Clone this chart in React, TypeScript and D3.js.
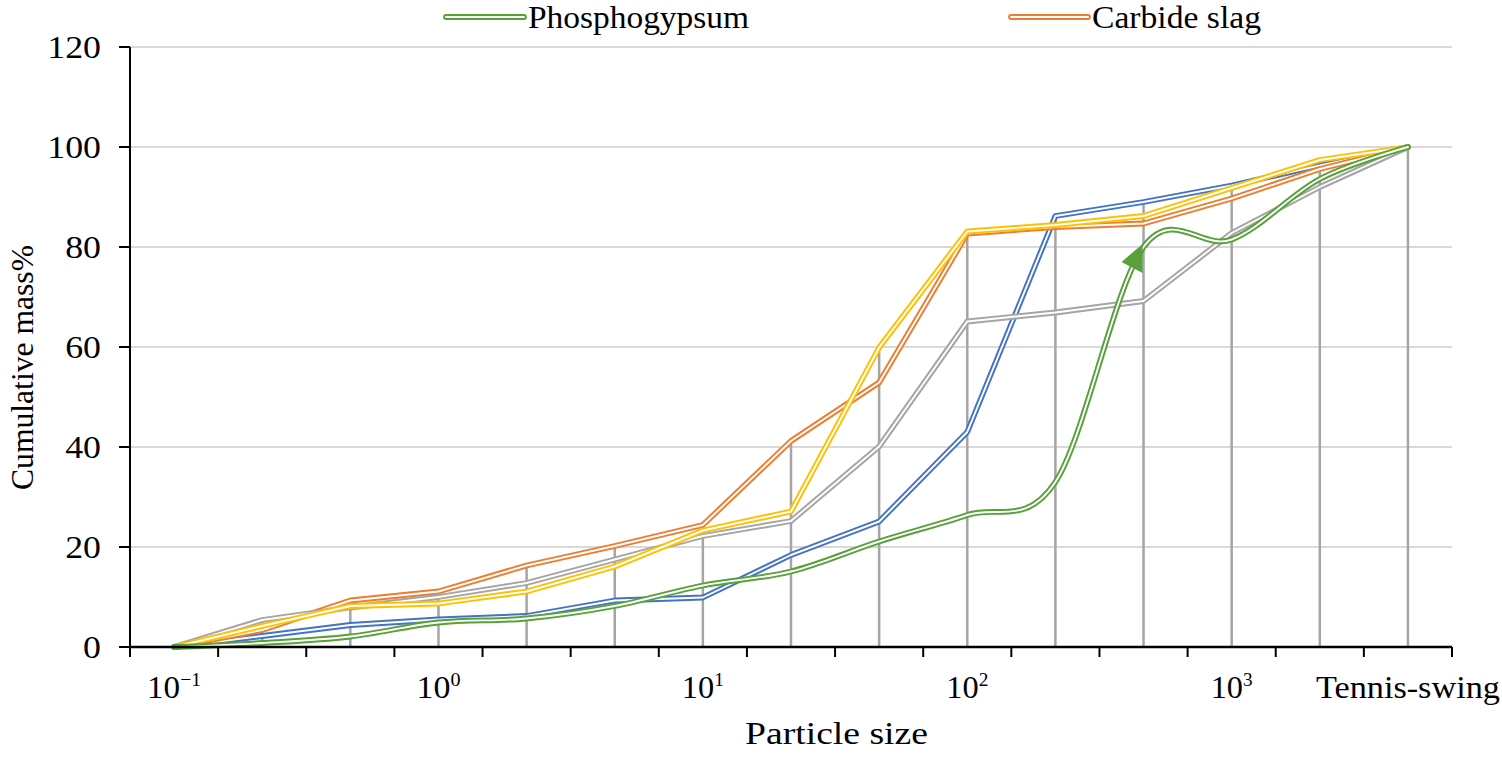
import React from "react";
import * as d3 from "d3";

const categories = ["0.1", "0.2", "0.5", "1", "2", "5", "10", "20", "50", "100", "200", "500", "1000", "2000", "Tennis-swing"];
const tickLabels: { index: number; base: string; sup: string; width: number }[] = [
  { index: 0, base: "10", sup: "\u22121", width: 54 },
  { index: 3, base: "10", sup: "0", width: 44 },
  { index: 6, base: "10", sup: "1", width: 42 },
  { index: 9, base: "10", sup: "2", width: 42 },
  { index: 12, base: "10", sup: "3", width: 42 },
  { index: 14, base: "Tennis-swing", sup: "", width: 184 },
];
const yTicks = [0, 20, 40, 60, 80, 100, 120];

const blueValues = [0, 2.2, 4.4, 5.5, 6.2, 9.3, 9.9, 18.4, 25.1, 43.0, 86.2, 89.0, 92.3, 96.3, 100];
const orangeValues = [0, 3.4, 9.3, 11.1, 16.3, 20.2, 24.4, 41.2, 52.9, 82.7, 84.0, 84.7, 89.7, 95.6, 100];
const grayValues = [0, 5.4, 7.9, 10.0, 12.8, 17.5, 22.2, 25.2, 40.1, 65.1, 66.9, 69.2, 82.8, 92.0, 100];
const yellowValues = [0, 4.2, 8.2, 8.7, 11.1, 16.1, 23.3, 27.1, 59.9, 83.1, 84.4, 86.2, 91.8, 97.4, 100];
const greenValues = [0, 0.8, 2.1, 4.9, 5.7, 8.2, 12.3, 15.1, 21.1, 26.4, 33.0, 80.0, 81.5, 93.6, 100];

const GREEN = "#58A03A";

const series = [
  { name: "Series 1", color: "#4472C4", values: blueValues, smooth: false },
  { name: "Carbide slag", color: "#ED7D31", values: orangeValues, smooth: false },
  { name: "Series 3", color: "#A5A5A5", values: grayValues, smooth: false },
  { name: "Series 4", color: "#FFC000", values: yellowValues, smooth: false },
  { name: "Phosphogypsum", color: GREEN, values: greenValues, smooth: true },
];

const legendItems = [
  { name: "Phosphogypsum", color: GREEN, x0: 446, x1: 524, width: 221 },
  { name: "Carbide slag", color: "#ED7D31", x0: 1011, x1: 1088, width: 169 },
];

const W = 1502;
const H = 782;
const left = 130;
const right = 1452;
const top = 47;
const bottom = 647;
const FONT = "'Liberation Serif', 'Times New Roman', serif";
const FS = 32;

export default function App() {
  const x = d3.scaleBand<number>().domain(categories.map((_, i) => i)).range([left, right]).padding(0);
  const cx = (i: number) => (x(i) as number) + x.bandwidth() / 2;
  const y = d3.scaleLinear().domain([0, 120]).range([bottom, top]);

  const boundaries = categories.map((_, i) => x(i) as number).concat([right]);
  const maxAt = categories.map((_, i) => d3.max(series, (s) => s.values[i]) as number);

  const straight = d3.line<number>().x((_, i) => cx(i)).y((d) => y(d));
  const smooth = d3.line<number>().x((_, i) => cx(i)).y((d) => y(d)).curve(d3.curveCardinal.tension(0));

  const greenIdx = 11;
  const ax = cx(greenIdx);
  const ay = y(greenValues[greenIdx]);
  const arrow = [
    [ax - 22, ay + 15],
    [ax - 1, ay - 3],
    [ax - 1, ay + 26],
  ];

  return (
    <svg width={W} height={H} style={{ position: "absolute", left: 0, top: 0, background: "#fff" }} fontFamily={FONT}>
      {/* gridlines */}
      {yTicks.filter((t) => t > 0).map((t) => (
        <line key={"g" + t} x1={left} x2={right} y1={y(t)} y2={y(t)} stroke="#D9D9D9" strokeWidth={2} />
      ))}
      {/* drop lines */}
      {maxAt.map((m, i) => (
        <line key={"d" + i} x1={cx(i)} x2={cx(i)} y1={y(0)} y2={y(m)} stroke="#A5A5A5" strokeWidth={2.5} />
      ))}
      {/* series */}
      {series.map((s) => {
        const d = (s.smooth ? smooth : straight)(s.values) as string;
        return (
          <g key={s.name}>
            <path d={d} fill="none" stroke={s.color} strokeWidth={5.8} strokeLinejoin="round" strokeLinecap="round" />
            <path d={d} fill="none" stroke="#fff" strokeWidth={1.9} strokeLinejoin="round" strokeLinecap="round" />
          </g>
        );
      })}
      <polygon points={arrow.map((p) => p.join(",")).join(" ")} fill={GREEN} />
      {/* axes */}
      <line x1={left} x2={left} y1={top} y2={bottom} stroke="#000" strokeWidth={2} />
      {yTicks.map((t) => (
        <g key={"y" + t}>
          <line x1={left - 11} x2={left} y1={y(t)} y2={y(t)} stroke="#000" strokeWidth={2} />
          <text
            transform={`translate(101,${y(t) + 11}) scale(1.12,1)`}
            textAnchor="end"
            fontSize={FS}
          >
            {t}
          </text>
        </g>
      ))}
      <line x1={left} x2={right} y1={bottom} y2={bottom} stroke="#000" strokeWidth={2.5} />
      {boundaries.map((b, i) => (
        <line key={"t" + i} x1={b} x2={b} y1={bottom} y2={bottom + 10} stroke="#000" strokeWidth={2} />
      ))}
      {tickLabels.map((t) => (
        <text
          key={"xl" + t.index}
          x={cx(t.index) - t.width / 2}
          y={698}
          fontSize={FS}
          textLength={t.width}
          lengthAdjust="spacingAndGlyphs"
        >
          <tspan>{t.base}</tspan>
          {t.sup && (
            <tspan dy={-12} fontSize={19}>
              {t.sup}
            </tspan>
          )}
        </text>
      ))}
      <text x={745} y={744} fontSize={FS} textLength={183} lengthAdjust="spacingAndGlyphs">
        Particle size
      </text>
      <text
        transform={`translate(33,490) rotate(-90)`}
        fontSize={FS}
        textLength={245}
        lengthAdjust="spacingAndGlyphs"
      >
        Cumulative mass%
      </text>
      {/* legend */}
      {legendItems.map((l) => (
        <g key={l.name}>
          <line x1={l.x0} x2={l.x1} y1={17} y2={17} stroke={l.color} strokeWidth={5.8} strokeLinecap="round" />
          <line x1={l.x0} x2={l.x1} y1={17} y2={17} stroke="#fff" strokeWidth={1.9} strokeLinecap="round" />
          <text x={l.x1 + 4} y={28} fontSize={FS} textLength={l.width} lengthAdjust="spacingAndGlyphs">
            {l.name}
          </text>
        </g>
      ))}
    </svg>
  );
}
